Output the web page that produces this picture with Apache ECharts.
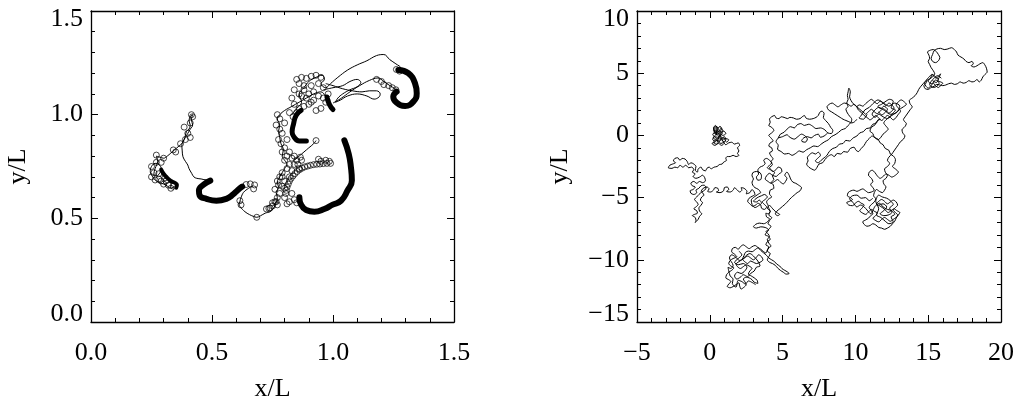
<!DOCTYPE html>
<html><head><meta charset="utf-8">
<script src="https://cdn.jsdelivr.net/npm/echarts@6/dist/echarts.min.js"></script>
<style>html,body{margin:0;padding:0;background:#fff}#c{width:1023px;height:399px}</style>
</head><body><div id="c"></div>
<script>
// ---------- tick labels ----------
const leftXTickValues = [0, 0.5, 1.0, 1.5];
const leftXTickLabels = ['0.0', '0.5', '1.0', '1.5'];
const leftYTickValues = [0, 0.5, 1.0, 1.5];
const leftYTickLabels = ['0.0', '0.5', '1.0', '1.5'];
const rightXTickValues = [-5, 0, 5, 10, 15, 20];
const rightXTickLabels = ['\u22125', '0', '5', '10', '15', '20'];
const rightYTickValues = [-15, -10, -5, 0, 5, 10];
const rightYTickLabels = ['\u221215', '\u221210', '\u22125', '0', '5', '10'];

// ---------- left panel: thin track pieces ----------
const leftTrackA = [[0.345,0.655],[0.33,0.645],[0.31,0.66],[0.29,0.67],[0.27,0.68],[0.255,0.70],[0.245,0.725],[0.25,0.75],[0.265,0.765],[0.28,0.76],[0.29,0.74],[0.285,0.72],[0.27,0.705],[0.26,0.715],[0.265,0.74],[0.275,0.775],[0.27,0.80],[0.285,0.795],[0.30,0.79],[0.315,0.80],[0.33,0.815],[0.345,0.83],[0.36,0.845],[0.375,0.86],[0.385,0.88],[0.39,0.90],[0.395,0.92],[0.405,0.93],[0.41,0.95],[0.405,0.97],[0.41,0.99],[0.42,1.0],[0.415,0.975],[0.42,0.95],[0.41,0.93],[0.40,0.91],[0.39,0.89],[0.38,0.87],[0.375,0.854]];
const leftTrackB = [[0.375,0.854],[0.377,0.825],[0.38,0.797],[0.39,0.775],[0.40,0.757],[0.405,0.74],[0.416,0.717],[0.425,0.70],[0.437,0.693],[0.455,0.69],[0.478,0.685],[0.49,0.688],[0.499,0.693]];
const leftTrackC = [[0.665,0.655],[0.645,0.64],[0.63,0.625],[0.62,0.60],[0.615,0.58],[0.612,0.565],[0.616,0.556],[0.636,0.532],[0.655,0.518],[0.67,0.51],[0.685,0.505],[0.70,0.512],[0.72,0.525],[0.74,0.532],[0.755,0.55],[0.765,0.575],[0.77,0.60],[0.765,0.625],[0.775,0.65],[0.77,0.675],[0.78,0.70],[0.79,0.72],[0.80,0.74],[0.81,0.76],[0.80,0.78],[0.79,0.80],[0.795,0.83],[0.785,0.86],[0.78,0.89],[0.775,0.92],[0.78,0.95],[0.77,0.98],[0.78,1.0],[0.80,1.02],[0.83,1.04],[0.86,1.06],[0.89,1.08],[0.92,1.10],[0.95,1.11],[0.97,1.09],[0.99,1.07]];
const leftTrackD = [[0.83,1.0],[0.85,1.03],[0.87,1.06],[0.86,1.10],[0.88,1.13],[0.90,1.16],[0.93,1.18],[0.955,1.19],[0.965,1.17],[0.95,1.15],[0.97,1.13],[0.99,1.15],[1.02,1.18],[1.06,1.215],[1.10,1.24],[1.14,1.26],[1.18,1.285],[1.21,1.29],[1.235,1.265],[1.26,1.245],[1.28,1.225],[1.265,1.205]];
const leftTrackE = [[0.96,1.12],[1.0,1.13],[1.04,1.14],[1.07,1.16],[1.10,1.17],[1.115,1.155],[1.10,1.135],[1.07,1.12],[1.04,1.10],[1.02,1.08],[1.01,1.06],[1.03,1.07],[1.06,1.09],[1.10,1.10],[1.14,1.09],[1.17,1.075],[1.19,1.085],[1.195,1.10],[1.18,1.115],[1.15,1.115],[1.12,1.11],[1.08,1.115],[1.04,1.125],[1.0,1.14],[0.97,1.15]];
const leftTrackF = [[1.0,1.056],[1.035,1.08],[1.07,1.11],[1.11,1.14],[1.15,1.165],[1.186,1.177],[1.21,1.16],[1.235,1.14],[1.255,1.125],[1.263,1.111]];
const leftTrackG = [[0.84,0.78],[0.86,0.80],[0.88,0.82],[0.90,0.84],[0.92,0.86],[0.93,0.875]];

// ---------- left panel: thick (slow, tightly gyrating) pieces ----------
const leftThick1 = [[0.29,0.735],[0.30,0.715],[0.315,0.695],[0.33,0.68],[0.345,0.672],[0.355,0.662],[0.352,0.648]];
const leftThick2 = [[0.493,0.682],[0.466,0.663],[0.446,0.634],[0.449,0.610],[0.477,0.594],[0.518,0.585],[0.559,0.594],[0.587,0.615],[0.607,0.637],[0.625,0.653]];
const leftThick3 = [[0.861,0.602],[0.868,0.566],[0.889,0.540],[0.923,0.532],[0.964,0.545],[0.999,0.566],[1.033,0.585],[1.06,0.634],[1.078,0.682],[1.074,0.747],[1.065,0.811],[1.047,0.876]];
const leftThick4 = [[0.868,1.021],[0.848,0.997],[0.837,0.956],[0.831,0.916],[0.841,0.889],[0.861,0.873],[0.89,0.873]];
const leftThick5 = [[0.975,1.085],[0.985,1.05],[1.0,1.025]];
const leftThick6 = [[1.27,1.216],[1.311,1.20],[1.339,1.151],[1.346,1.103],[1.332,1.063],[1.298,1.042],[1.263,1.058],[1.249,1.087],[1.263,1.111]];

// ---------- left panel: small gyration loops ----------
const leftLoops = [
 [0.25,0.75],[0.27,0.77],[0.28,0.69],[0.30,0.665],[0.32,0.66],[0.33,0.645],[0.26,0.72],[0.25,0.70],[0.29,0.68],[0.31,0.68],[0.34,0.655],[0.27,0.805],[0.29,0.77],[0.28,0.715],[0.265,0.685],[0.305,0.695],
 [0.30,0.79],[0.34,0.83],[0.37,0.86],[0.39,0.88],[0.40,0.91],[0.41,0.89],[0.385,0.94],[0.41,0.96],[0.42,0.99],[0.415,1.0],[0.35,0.82],
 [0.641,0.663],[0.658,0.666],[0.676,0.661],[0.672,0.642],[0.615,0.585],[0.62,0.565],[0.685,0.505],[0.725,0.545],[0.74,0.55],[0.75,0.56],[0.765,0.58],[0.75,0.575],[0.735,0.548],
 [0.77,1.0],[0.78,0.98],[0.765,0.95],[0.78,0.93],[0.79,0.91],[0.775,0.88],[0.785,0.86],[0.80,0.84],[0.79,0.82],[0.81,0.80],[0.80,0.78],[0.82,0.76],[0.81,0.74],[0.79,0.72],[0.78,0.70],[0.77,0.68],[0.775,0.66],[0.76,0.64],[0.78,0.62],[0.77,0.60],[0.76,0.58],[0.80,0.68],[0.82,0.70],[0.83,0.73],[0.84,0.76],[0.85,0.78],[0.83,0.79],[0.82,0.82],[0.84,0.80],[0.86,0.74],[0.87,0.78],[0.80,0.60],[0.82,0.58],[0.84,0.59],[0.83,0.62],[0.80,0.645],[0.81,0.88],[0.80,0.96],[0.79,0.70],[0.855,0.76],[0.865,0.795],[0.79,0.655],[0.77,0.565],[0.81,0.57],[0.85,0.575],
 [0.805,0.62],[0.807,0.635],[0.81,0.65],[0.815,0.665],[0.82,0.68],[0.827,0.693],[0.835,0.705],[0.843,0.716],[0.852,0.726],[0.862,0.735],[0.872,0.742],[0.883,0.748],[0.895,0.752],[0.907,0.756],[0.92,0.759],[0.933,0.761],[0.946,0.762],[0.96,0.764],[0.975,0.765],[0.99,0.765],[0.985,0.775],[0.97,0.78],[0.95,0.775],[0.94,0.785],
 [0.85,1.17],[0.87,1.18],[0.89,1.175],[0.91,1.185],[0.93,1.19],[0.95,1.18],[0.86,1.15],[0.88,1.14],[0.84,1.12],[0.86,1.10],[0.88,1.12],[0.90,1.10],[0.92,1.11],[0.94,1.09],[0.96,1.08],[0.92,1.07],[0.90,1.05],[0.88,1.04],[0.86,1.03],[0.84,1.05],[0.83,1.08],[0.85,1.01],[0.95,1.03],[0.97,1.06],[0.98,1.10],[0.96,1.13],[0.94,1.15],[0.91,1.14],[0.89,1.08],[0.93,1.02],[0.82,1.01],[0.835,0.99],[0.87,1.09],[0.91,1.06],
 [1.18,1.17],[1.20,1.16],[1.21,1.145],[1.23,1.14],[1.245,1.13],[1.26,1.12],[1.262,1.218],[1.275,1.21],[0.93,0.875]
];

// ---------- right panel: trajectory pieces ----------
const rightSeg1 = [[0.5,0.0],[0.35,0.3],[0.25,0.6],[0.4,0.8],[0.55,0.55],[0.7,0.75],[0.8,0.45],[0.6,0.3],[0.45,0.5],[0.3,0.2],[0.5,0.1],[0.75,0.25],[0.95,0.35],[1.1,0.15],[0.9,0.0],[0.7,0.1],[0.55,-0.15],[0.3,-0.1],[0.2,-0.35],[0.4,-0.5],[0.15,-0.65],[0.35,-0.8],[0.6,-0.65],[0.8,-0.8],[1.0,-0.6],[0.85,-0.4],[1.05,-0.25],[1.3,-0.35],[1.15,-0.55],[0.95,-0.2],[0.7,-0.35],[0.5,-0.55],[0.65,-0.1],[0.85,0.15],[0.6,0.45],[0.4,0.6],[0.3,0.45],[0.5,0.25],[0.7,-0.05],[0.9,-0.45],[1.1,-0.75],[1.3,-0.6],[1.5,-0.55],[1.7,-0.7],[1.95,-0.6],[2.05,-0.8],[1.9,-1.0],[2.0,-1.25],[1.9,-1.45],[2.0,-1.6],[1.8,-1.7],[1.6,-1.6],[1.4,-1.7],[1.2,-1.7],[1.1,-1.85],[1.15,-2.0],[0.95,-2.15],[0.85,-2.3],[0.65,-2.35],[0.5,-2.5],[0.3,-2.55],[0.1,-2.7]];
const rightSeg1b = [[0.5,0.0],[0.45,0.35],[0.6,0.6],[0.35,0.7],[0.25,0.4],[0.45,0.2],[0.65,0.4],[0.8,0.6],[0.9,0.3],[0.7,0.15],[0.55,0.35],[0.4,0.05],[0.25,-0.2],[0.45,-0.35],[0.6,-0.2],[0.8,-0.3],[0.65,-0.5],[0.45,-0.7],[0.25,-0.55],[0.4,-0.4],[0.6,-0.45],[0.75,-0.65],[0.95,-0.55],[1.1,-0.35],[1.0,-0.1],[0.85,-0.2],[0.7,0.0],[0.55,-0.3],[0.35,-0.15],[0.2,0.1],[0.4,0.25],[0.55,0.45]];
const rightSeg2 = [[0.1,-2.7],[-0.05,-2.55],[-0.2,-2.65],[-0.3,-2.85],[-0.5,-2.75],[-0.6,-2.55],[-0.8,-2.7],[-0.85,-2.95],[-1.0,-2.8],[-0.95,-2.5],[-1.1,-2.3],[-1.3,-2.2],[-1.45,-2.35],[-1.55,-2.1],[-1.7,-1.9],[-1.9,-1.85],[-2.05,-2.0],[-2.2,-1.8],[-2.4,-1.85],[-2.5,-2.05],[-2.35,-2.2],[-2.55,-2.3],[-2.75,-2.4],[-2.85,-2.6],[-2.6,-2.65],[-2.4,-2.55],[-2.2,-2.6],[-2.05,-2.4],[-1.85,-2.55],[-1.65,-2.4],[-1.45,-2.6],[-1.25,-2.55],[-1.1,-2.75],[-1.2,-2.95],[-1.0,-3.1],[-1.15,-3.3],[-0.95,-3.45],[-0.7,-3.35],[-0.5,-3.2],[-0.35,-3.4],[-0.3,-3.65],[-0.5,-3.8],[-0.7,-3.7],[-0.9,-3.85],[-1.1,-3.7],[-1.3,-3.85],[-1.2,-4.05],[-1.0,-4.15],[-1.15,-4.35],[-1.35,-4.45],[-1.3,-4.65],[-1.1,-4.75],[-0.9,-4.6],[-0.95,-4.4],[-0.75,-4.25],[-0.6,-4.05],[-0.4,-4.0],[-0.25,-4.2],[-0.35,-4.4],[-0.55,-4.55],[-0.75,-4.75],[-0.9,-4.95],[-1.05,-5.15],[-0.9,-5.35],[-0.8,-5.55],[-0.95,-5.75],[-1.1,-5.9],[-0.9,-6.05],[-0.85,-6.25],[-1.05,-6.35],[-1.2,-6.45],[-1.0,-6.6],[-0.95,-6.85],[-1.0,-7.0],[-0.8,-6.75],[-0.7,-6.5],[-0.55,-6.3],[-0.7,-6.1],[-0.75,-5.85],[-0.6,-5.6],[-0.5,-5.4],[-0.65,-5.2],[-0.55,-4.95],[-0.4,-4.8],[-0.6,-4.5]];
const rightSeg3 = [[-0.6,-4.5],[-0.45,-4.25],[-0.2,-4.15],[-0.05,-4.3],[-0.15,-4.5],[0.05,-4.55],[0.25,-4.4],[0.35,-4.2],[0.55,-4.25],[0.6,-4.45],[0.45,-4.55],[0.7,-4.6],[0.95,-4.45],[1.0,-4.2],[1.2,-4.15],[1.3,-4.35],[1.15,-4.5],[1.4,-4.55],[1.6,-4.4],[1.7,-4.2],[1.85,-4.35],[2.05,-4.55],[2.2,-4.4],[2.15,-4.2],[2.35,-4.25],[2.55,-4.5],[2.5,-4.7],[2.75,-4.6],[2.9,-4.35],[3.05,-4.55],[3.1,-4.75],[2.9,-4.9],[2.7,-5.05],[2.6,-5.3],[2.75,-5.5],[2.95,-5.7],[3.15,-5.6],[3.3,-5.45],[3.5,-5.6],[3.55,-5.85],[3.75,-5.95],[3.9,-5.75],[3.75,-5.55],[3.6,-5.35],[3.8,-5.15],[3.95,-4.95],[3.75,-4.75],[3.55,-4.85],[3.35,-4.95],[3.15,-5.1],[3.0,-5.3],[3.2,-5.35],[3.4,-5.2],[3.55,-5.45],[3.35,-5.65],[3.1,-5.8],[2.9,-5.55],[2.85,-5.2],[3.05,-4.95],[3.3,-4.75],[3.5,-4.6]];
const rightSeg4 = [[3.5,-4.6],[3.35,-4.35],[3.1,-4.2],[2.95,-4.0],[2.9,-3.75],[3.0,-3.5],[2.9,-3.25],[2.95,-3.0],[3.2,-2.9],[3.45,-3.0],[3.55,-3.25],[3.5,-3.55],[3.3,-3.6],[3.2,-3.35],[3.35,-3.1],[3.3,-2.8],[3.45,-2.55],[3.65,-2.45],[3.8,-2.25],[3.7,-2.0],[3.9,-1.85],[4.1,-2.0],[4.25,-2.2],[4.1,-2.4],[3.95,-2.6],[4.15,-2.75],[4.35,-2.9],[4.55,-2.75],[4.7,-2.55],[4.9,-2.65],[4.95,-2.9],[4.75,-3.1],[4.55,-3.3],[4.3,-3.2],[4.1,-3.05],[3.9,-3.25],[3.8,-3.5],[4.0,-3.7],[4.2,-3.85],[4.45,-3.7],[4.65,-3.55],[4.85,-3.75],[5.05,-3.9],[5.2,-3.7],[5.3,-3.45],[5.15,-3.2],[5.3,-2.95],[5.45,-3.2],[5.55,-3.5],[5.7,-3.75],[5.9,-3.85],[6.1,-4.0],[6.3,-4.2],[6.2,-4.45],[6.0,-4.6],[5.8,-4.8],[5.6,-5.0],[5.4,-5.25],[5.2,-5.5],[5.0,-5.7],[4.8,-5.9],[4.6,-6.1],[4.5,-6.3],[4.65,-6.45],[4.8,-6.35],[4.6,-6.2],[4.4,-6.0],[4.25,-5.8],[4.1,-5.6]];
const rightSeg5 = [[4.1,-5.6],[3.95,-5.85],[4.15,-6.1],[4.0,-6.3],[3.85,-6.25],[3.9,-6.55],[4.1,-6.7],[3.95,-6.95],[3.7,-7.1],[3.4,-7.05],[3.15,-7.15],[3.0,-7.35],[3.2,-7.45],[3.5,-7.35],[3.8,-7.4],[4.05,-7.6],[3.9,-7.8],[3.8,-8.0],[4.0,-8.1],[4.15,-8.35],[3.95,-8.55],[3.85,-8.8],[4.05,-8.95],[3.95,-9.2],[3.85,-9.45],[3.7,-9.35],[3.5,-9.15],[3.3,-9.0],[3.1,-8.85],[2.9,-8.95],[2.7,-9.1],[2.5,-8.95],[2.3,-8.8],[2.1,-8.95],[1.95,-9.15],[1.75,-9.0],[1.55,-9.1],[1.5,-9.35],[1.7,-9.55],[1.85,-9.75],[1.6,-9.9],[1.4,-10.05],[1.3,-10.3],[1.45,-10.5],[1.65,-10.65],[1.5,-10.85],[1.3,-11.0],[1.15,-11.2],[1.1,-11.45],[1.3,-11.6],[1.45,-11.75],[1.3,-11.95],[1.2,-12.15],[1.4,-12.25],[1.6,-12.15],[1.8,-12.0],[2.0,-11.85],[2.05,-12.1],[2.15,-12.35],[2.35,-12.2],[2.5,-12.0],[2.4,-11.75],[2.3,-11.55],[2.5,-11.4],[2.7,-11.45],[2.9,-11.6],[3.05,-11.8],[3.3,-11.9],[3.25,-11.65],[3.05,-11.45],[2.85,-11.3],[2.65,-11.15],[2.75,-10.9],[2.9,-10.7],[2.7,-10.5],[2.5,-10.4],[2.3,-10.55],[2.1,-10.7],[1.9,-10.55],[1.8,-10.35],[2.0,-10.15],[2.2,-10.0],[2.4,-9.85],[2.6,-9.7],[2.8,-9.85],[3.0,-10.0],[3.2,-9.8],[3.35,-9.6],[3.55,-9.75],[3.65,-10.0],[3.45,-10.2],[3.2,-10.3],[3.0,-10.2],[2.8,-10.1],[2.6,-10.3],[2.4,-10.15],[2.25,-9.95],[2.35,-9.65],[2.45,-9.4],[2.65,-9.3],[2.9,-9.35],[3.1,-9.2],[3.3,-9.05],[3.5,-9.25],[3.7,-9.45],[3.9,-9.65],[4.05,-9.85],[4.25,-10.0],[4.45,-10.15],[4.6,-10.35],[4.8,-10.5],[4.95,-10.7],[5.15,-10.85],[5.3,-10.95],[5.45,-11.1],[5.25,-11.15],[5.05,-11.0],[4.85,-10.85],[4.65,-10.65],[4.5,-10.45],[4.3,-10.3],[4.1,-10.2],[3.95,-10.0],[4.05,-9.75],[4.15,-9.5],[3.95,-9.3],[4.05,-9.05],[4.2,-8.9],[4.05,-8.65],[3.95,-8.35],[4.1,-8.15],[4.0,-7.9],[3.85,-7.75],[4.05,-7.55],[4.2,-7.3],[4.0,-7.1],[4.1,-6.85],[4.25,-6.6],[4.05,-6.4],[4.15,-6.1],[4.05,-5.85],[4.0,-5.6]];
const rightSeg5b = [[2.0,-9.3],[2.2,-9.6],[1.95,-9.9],[1.7,-10.2],[1.95,-10.4],[2.3,-10.3],[2.55,-10.6],[2.4,-10.9],[2.15,-11.1],[1.9,-11.0],[1.7,-11.3],[1.85,-11.55],[2.1,-11.4],[2.3,-11.2],[2.6,-11.35],[2.8,-11.1],[3.05,-10.9],[3.2,-10.6],[3.45,-10.5],[3.3,-10.1],[3.0,-9.7],[2.75,-9.5],[2.5,-9.65],[2.3,-9.9],[2.05,-10.05],[1.75,-9.75],[1.5,-9.6],[1.35,-9.85],[1.6,-10.45],[1.45,-10.7],[1.25,-10.6],[1.4,-11.3],[1.6,-11.55],[1.55,-11.9],[1.8,-12.2],[1.95,-11.65],[2.2,-11.75],[2.45,-11.95],[2.65,-11.7],[2.95,-11.85],[3.15,-12.0]];
const rightSeg6 = [[4.0,-5.6],[3.9,-5.35],[4.05,-5.1],[4.25,-4.95],[4.1,-4.7],[4.15,-4.4],[4.4,-4.25],[4.35,-3.95],[4.2,-3.8],[4.4,-3.55],[4.3,-3.25],[4.45,-3.0],[4.25,-2.8],[4.1,-2.6],[4.3,-2.35],[4.2,-2.1],[4.35,-1.9],[4.2,-1.65],[4.1,-1.4],[4.3,-1.25],[4.25,-1.0],[4.05,-0.85],[4.15,-0.6],[4.35,-0.45],[4.2,-0.2],[4.05,0.0],[4.25,0.2],[4.4,0.4],[4.25,0.65],[4.05,0.8],[4.15,1.05],[4.1,1.3],[4.25,1.5],[4.45,1.6],[4.55,1.4],[4.75,1.35],[4.9,1.5],[5.1,1.45],[5.35,1.35],[5.5,1.45],[5.75,1.4],[5.95,1.3],[6.2,1.35],[6.35,1.5],[6.5,1.6],[6.6,1.4],[6.85,1.3],[7.1,1.35],[7.3,1.45],[7.45,1.6],[7.55,1.85],[7.7,1.95],[7.85,1.75],[7.8,1.45],[7.95,1.2],[8.15,0.95],[8.3,0.65],[8.45,0.4],[8.35,0.15],[8.1,0.2],[7.9,0.45],[7.6,0.6],[7.3,0.55],[7.05,0.75],[6.8,0.9],[6.5,0.8],[6.25,0.95],[6.0,0.85],[5.8,0.6],[5.55,0.7],[5.3,0.5],[5.1,0.25],[4.85,0.1],[4.7,-0.2],[4.55,-0.5],[4.7,-0.8],[4.65,-1.1],[4.9,-1.3],[5.15,-1.5],[5.4,-1.45],[5.65,-1.6],[5.9,-1.45],[6.15,-1.25],[6.4,-1.35],[6.65,-1.15],[6.9,-1.0],[7.15,-0.85],[7.4,-0.9],[7.65,-0.7],[7.9,-0.5],[8.15,-0.35],[8.35,-0.1],[8.6,0.05],[8.85,0.25],[9.05,0.45],[9.3,0.55],[9.5,0.8],[9.7,1.05],[9.75,1.3],[9.6,1.55],[9.45,1.8],[9.35,2.1],[9.5,2.35],[9.4,2.6],[9.5,2.9],[9.45,3.2],[9.5,3.5],[9.55,3.8],[9.65,3.5],[9.6,3.1],[9.7,2.8],[9.85,2.55],[10.05,2.35],[10.25,2.15],[10.45,1.95],[10.7,1.7]];
const rightSeg6b = [[4.7,-0.2],[5.0,-0.1],[5.3,0.05],[5.5,-0.15],[5.8,-0.3],[6.05,-0.1],[6.3,0.1],[6.55,-0.05],[6.7,-0.3],[6.55,-0.55],[6.3,-0.45],[6.45,-0.2],[6.7,-0.1],[6.95,-0.2],[7.2,0.0],[7.45,0.1],[7.6,-0.15],[7.85,-0.05],[8.1,0.2]];
const rightSeg7 = [[10.7,1.7],[10.9,1.9],[11.1,2.1],[11.3,1.9],[11.5,1.75],[11.7,1.95],[11.9,2.15],[12.1,2.0],[12.3,1.8],[12.5,1.95],[12.65,2.2],[12.5,2.45],[12.3,2.6],[12.1,2.4],[11.9,2.6],[11.7,2.75],[11.5,2.55],[11.3,2.7],[11.1,2.9],[10.9,2.75],[10.7,2.55],[10.5,2.35],[10.3,2.45],[10.1,2.3],[10.2,2.05],[10.4,1.85],[10.6,1.6],[10.8,1.45],[11.0,1.25],[11.2,1.4],[11.4,1.6],[11.6,1.4],[11.8,1.2],[12.0,1.4],[12.2,1.6],[12.4,1.45],[12.6,1.25],[12.8,1.45],[12.95,1.7],[13.1,1.95],[12.95,2.2],[12.8,2.45],[12.95,2.7],[13.15,2.85],[13.35,2.7],[13.5,2.5],[13.3,2.3],[13.1,2.15],[12.9,1.95],[12.7,1.75],[12.5,1.6],[12.3,1.45],[12.1,1.25],[11.95,1.0],[12.1,0.75],[12.25,0.5],[12.1,0.3],[11.9,0.1],[11.75,-0.15],[11.55,-0.35],[11.35,-0.2],[11.15,-0.05],[10.95,-0.25],[10.75,-0.5],[10.6,-0.8],[10.4,-1.05],[10.2,-1.3],[10.05,-1.2],[9.9,-0.95],[9.65,-1.05],[9.45,-1.35],[9.2,-1.3],[9.0,-1.5],[8.75,-1.45],[8.55,-1.7],[8.35,-1.55],[8.1,-1.7],[7.9,-1.95],[7.75,-2.2],[7.5,-2.3],[7.35,-2.6],[7.2,-2.8],[7.0,-2.7],[6.8,-2.55],[6.65,-2.3],[6.75,-2.05],[6.7,-1.8],[6.85,-1.55],[7.05,-1.4],[7.25,-1.5],[7.45,-1.35],[7.6,-1.6],[7.4,-1.85],[7.25,-2.05],[7.45,-2.2],[7.65,-2.0],[7.85,-1.8],[8.05,-1.6],[8.2,-1.3],[8.45,-1.05],[8.7,-0.95],[8.9,-0.7],[9.15,-0.65],[9.35,-0.4],[9.6,-0.45],[9.85,-0.2],[10.1,-0.05],[10.3,0.2],[10.55,0.3],[10.75,0.55],[11.0,0.6],[11.2,0.9],[11.45,1.0],[11.55,1.25],[11.7,1.3]];
const rightSeg7b = [[10.1,2.3],[9.9,2.5],[9.7,2.35],[9.5,2.5],[9.25,2.6],[9.0,2.45],[8.8,2.3],[8.6,2.45],[8.4,2.6],[8.2,2.5],[8.05,2.3],[8.15,2.05],[8.35,1.9],[8.55,1.75],[8.75,1.6],[8.95,1.45],[9.15,1.3],[9.35,1.2],[9.55,1.1],[9.75,1.0],[9.95,1.1],[10.1,1.3]];
const rightSeg7c = [[11.6,1.9],[11.8,1.65],[12.05,1.85],[12.2,2.1],[11.95,2.35],[11.75,2.15],[11.55,2.35],[11.8,2.5],[12.1,2.75],[12.35,2.9],[12.6,2.75],[12.45,2.2],[12.75,2.05],[12.55,1.75],[12.2,1.35],[11.9,1.5],[11.6,1.7],[11.35,1.45],[11.15,1.7],[11.35,2.05],[11.6,2.25],[12.0,2.0],[12.4,1.7],[12.85,1.85],[13.05,2.35],[12.7,2.6],[12.3,2.35],[12.0,2.55],[11.55,2.85],[11.2,2.55],[10.95,2.25],[10.65,2.05],[10.4,1.6],[10.25,1.4],[10.55,1.3],[10.8,1.7]];
const rightSeg8 = [[11.7,1.3],[11.45,1.1],[11.35,0.85],[11.1,0.65],[11.0,0.35],[11.2,0.15],[11.3,-0.15],[11.55,-0.3],[11.7,-0.6],[11.9,-0.75],[12.05,-1.05],[12.3,-1.2],[12.4,-1.5],[12.6,-1.65],[12.75,-1.95],[12.7,-2.25],[12.55,-2.5],[12.75,-2.7],[12.95,-2.95],[12.75,-3.2],[12.5,-3.35],[12.3,-3.2],[12.1,-3.1],[11.9,-3.3],[11.7,-3.45],[11.5,-3.25],[11.35,-3.0],[11.15,-2.8],[10.95,-2.95],[10.9,-3.2],[11.1,-3.45],[11.2,-3.7],[11.05,-3.95],[11.2,-4.2],[11.3,-4.4],[11.1,-4.55],[10.9,-4.6],[10.7,-4.45],[10.5,-4.3],[10.3,-4.4],[10.1,-4.5],[9.9,-4.4],[9.7,-4.45],[9.5,-4.6],[9.45,-4.85],[9.65,-5.0],[9.8,-5.15],[9.6,-5.3],[9.4,-5.4],[9.55,-5.6],[9.8,-5.65],[10.0,-5.45],[10.2,-5.3],[10.4,-5.45],[10.6,-5.6],[10.45,-5.85],[10.3,-6.05],[10.5,-6.25],[10.7,-6.35],[10.9,-6.15],[11.1,-5.95],[11.3,-6.1],[11.5,-6.25],[11.35,-6.5],[11.2,-6.65],[11.4,-6.85],[11.6,-6.95],[11.8,-6.75],[12.0,-6.6],[12.2,-6.75],[12.4,-6.9],[12.6,-6.75],[12.8,-6.6],[12.95,-6.4],[13.05,-6.2],[12.85,-6.05],[12.65,-5.9],[12.45,-6.05],[12.25,-6.2],[12.05,-6.0],[11.85,-5.8],[11.65,-5.65],[11.45,-5.5],[11.6,-5.3],[11.8,-5.15],[12.0,-5.3],[12.2,-5.5],[12.4,-5.35],[12.6,-5.2],[12.8,-5.35],[12.9,-5.6],[12.75,-5.8],[12.6,-6.0],[12.75,-6.2],[12.9,-6.4],[12.8,-6.65],[12.7,-6.9],[12.55,-7.1],[12.4,-7.3],[12.2,-7.45],[12.0,-7.55],[11.8,-7.45],[11.6,-7.4],[11.4,-7.2],[11.2,-7.1],[11.0,-7.25],[10.8,-7.3],[10.6,-7.15],[10.5,-6.95],[10.7,-6.8],[10.9,-6.65],[11.05,-6.45],[11.2,-6.3],[11.1,-6.05],[10.95,-5.8],[11.1,-5.55],[11.3,-5.35],[11.4,-5.1],[11.25,-4.85],[11.3,-4.6],[11.45,-4.35],[11.65,-4.5],[11.85,-4.6],[12.0,-4.4],[12.1,-4.15],[11.95,-3.9],[11.9,-3.65],[12.1,-3.45],[12.2,-3.2],[12.05,-2.95],[12.0,-2.7],[12.2,-2.5],[12.35,-2.25],[12.2,-2.0],[12.3,-1.75],[12.5,-1.5],[12.65,-1.25],[12.8,-1.0],[12.95,-0.75],[13.1,-0.5],[13.3,-0.3],[13.4,-0.05],[13.25,0.2],[13.2,0.45],[13.4,0.7],[13.5,0.95],[13.35,1.15],[13.3,1.3]];
const rightSeg8b = [[11.6,-5.6],[11.9,-5.5],[12.15,-5.75],[11.95,-6.05],[11.7,-6.3],[11.95,-6.45],[12.25,-6.4],[12.5,-6.2],[12.35,-5.85],[12.6,-5.55],[12.4,-5.25],[12.15,-5.05],[11.85,-4.95],[11.6,-4.8],[11.4,-5.3],[11.6,-5.9],[11.45,-6.4],[11.75,-6.6],[12.05,-6.9],[12.3,-7.1],[12.6,-6.95],[12.45,-6.55],[12.7,-6.35],[12.5,-6.05],[12.2,-5.95],[11.9,-5.75],[11.65,-5.45],[11.35,-5.7],[11.05,-6.3],[10.8,-6.0],[10.6,-5.75],[10.35,-5.6],[10.1,-5.75],[9.85,-5.4],[9.6,-5.1],[9.8,-4.85],[10.1,-4.8],[10.4,-5.05],[10.7,-5.0],[10.95,-5.25],[11.2,-5.05]];
const rightSeg9 = [[13.3,1.3],[13.45,1.55],[13.6,1.8],[13.75,2.05],[13.9,2.3],[13.75,2.55],[13.7,2.8],[13.9,3.0],[14.1,3.2],[14.25,3.45],[14.35,3.7],[14.5,3.95],[14.65,4.15],[14.8,4.35],[14.95,4.55],[15.1,4.75],[15.25,4.9],[15.4,4.75],[15.55,4.6],[15.7,4.75],[15.85,4.95],[15.75,4.65],[15.65,4.4],[15.85,4.3],[16.0,4.2],[15.85,4.0],[15.7,3.85],[15.5,4.0],[15.35,4.2],[15.2,4.0],[15.0,3.8],[14.85,3.95],[14.75,4.2],[14.9,4.4],[15.1,4.55],[15.3,4.7],[15.45,4.95],[15.35,5.2],[15.2,5.45],[15.1,5.7],[15.0,5.95],[15.1,6.2],[15.05,6.45],[14.95,6.7],[15.15,6.85],[15.35,6.9],[15.55,6.75],[15.7,6.5],[15.8,6.25],[15.7,6.0],[15.5,5.85],[15.3,5.95],[15.2,6.2],[15.3,6.5],[15.4,6.8],[15.6,6.95],[15.85,7.0],[16.1,6.9],[16.35,6.95],[16.6,7.05],[16.8,6.9],[16.95,6.7],[17.05,6.45],[17.25,6.3],[17.45,6.15],[17.6,5.95],[17.8,5.85],[18.0,5.95],[18.1,5.75],[17.95,5.6],[18.15,5.5],[18.35,5.6],[18.55,5.75],[18.75,5.85],[18.9,5.65],[19.0,5.4],[19.05,5.1],[18.9,4.9],[18.75,4.7],[18.65,4.45],[18.5,4.3],[18.35,4.5],[18.2,4.35],[18.0,4.3],[17.8,4.4],[17.6,4.25],[17.4,4.2],[17.2,4.3],[17.0,4.15],[16.8,4.1],[16.6,4.2],[16.4,4.15],[16.2,4.05],[16.0,4.0],[15.8,4.05],[15.6,4.1],[15.4,3.95],[15.2,3.85],[15.0,3.7],[14.8,3.75],[14.7,4.0],[14.85,4.2],[14.9,4.4]];
const rightSeg9b = [[15.3,4.4],[15.55,4.25],[15.7,4.5],[15.5,4.7],[15.3,4.9],[15.15,4.6],[15.0,4.35],[15.25,4.15],[15.5,4.45],[15.75,4.2],[15.6,3.95],[15.35,3.85],[15.1,4.1],[15.4,4.6],[15.65,4.8],[15.9,4.6]];

// ---------- build ----------
const FONT = 'Liberation Serif';
function fmt(vals, labs) {
  return function (v) {
    for (let i = 0; i < vals.length; i++) if (Math.abs(vals[i] - v) < 1e-6) return labs[i];
    return '';
  };
}
function axisBase(min, max, interval) {
  return {
    type: 'value', min: min, max: max, interval: interval,
    axisLine: { show: true, onZero: false, lineStyle: { color: '#000', width: 1.3 } },
    axisTick: { show: true, inside: true, length: 7, lineStyle: { color: '#000', width: 1 } },
    minorTick: { show: true, splitNumber: 5, length: 4, lineStyle: { color: '#000', width: 1 } },
    splitLine: { show: false }, minorSplitLine: { show: false }
  };
}
function xAxes(gi, min, max, interval, vals, labs) {
  const bottom = Object.assign(axisBase(min, max, interval), {
    gridIndex: gi, position: 'bottom',
    axisLabel: { show: true, formatter: fmt(vals, labs), fontFamily: FONT, fontSize: 26, color: '#000', margin: 18 },
    name: 'x/L', nameLocation: 'middle', nameGap: 54,
    nameTextStyle: { fontFamily: FONT, fontSize: 26, color: '#000' }
  });
  const top = Object.assign(axisBase(min, max, interval), { gridIndex: gi, position: 'top', axisLabel: { show: false } });
  return [bottom, top];
}
function yAxes(gi, min, max, interval, vals, labs, gap) {
  const left = Object.assign(axisBase(min, max, interval), {
    gridIndex: gi, position: 'left',
    axisLabel: { show: true, formatter: fmt(vals, labs), fontFamily: FONT, fontSize: 26, color: '#000', margin: 8,
      lineHeight: 16, verticalAlignMinLabel: 'bottom', verticalAlignMaxLabel: 'top' },
    name: 'y/L', nameLocation: 'middle', nameGap: gap, nameRotate: 90,
    nameTextStyle: { fontFamily: FONT, fontSize: 26, color: '#000' }
  });
  const right = Object.assign(axisBase(min, max, interval), { gridIndex: gi, position: 'right', axisLabel: { show: false } });
  return [left, right];
}

const series = [];
function thin(data, xi, yi, smooth) {
  series.push({ type: 'line', xAxisIndex: xi, yAxisIndex: yi, data: data, showSymbol: false, smooth: smooth,
    lineStyle: { color: '#000', width: 1 }, silent: true, emphasis: { disabled: true } });
}
function thick(data, w) {
  series.push({ type: 'line', xAxisIndex: 0, yAxisIndex: 0, data: data, showSymbol: false, smooth: true,
    lineStyle: { color: '#000', width: w, cap: 'round', join: 'round' }, silent: true, emphasis: { disabled: true } });
}
[leftTrackA, leftTrackB, leftTrackC, leftTrackD, leftTrackE, leftTrackF, leftTrackG].forEach(d => thin(d, 0, 0, 0.4));
thick(leftThick1, 4); thick(leftThick2, 6); thick(leftThick3, 6); thick(leftThick4, 5); thick(leftThick5, 5); thick(leftThick6, 6);
series.push({ type: 'scatter', xAxisIndex: 0, yAxisIndex: 0, data: leftLoops, symbol: 'circle', symbolSize: 6,
  itemStyle: { color: 'rgba(0,0,0,0)', borderColor: '#000', borderWidth: 0.9 }, silent: true, emphasis: { disabled: true } });
[rightSeg1, rightSeg1b, rightSeg2, rightSeg3, rightSeg4, rightSeg5, rightSeg5b, rightSeg6, rightSeg6b, rightSeg7, rightSeg7b, rightSeg7c, rightSeg8, rightSeg8b, rightSeg9, rightSeg9b].forEach(d => thin(d, 2, 2, 0.3));

const chart = echarts.init(document.getElementById('c'), null, { renderer: 'canvas' });
chart.setOption({
  backgroundColor: '#fff',
  animation: false,
  grid: [
    { left: 91, top: 11, width: 363, height: 311, containLabel: false, outerBoundsMode: 'none' },
    { left: 637, top: 11, width: 364, height: 311, containLabel: false, outerBoundsMode: 'none' }
  ],
  xAxis: [].concat(
    xAxes(0, 0, 1.5, 0.5, leftXTickValues, leftXTickLabels),
    xAxes(1, -5, 20, 5, rightXTickValues, rightXTickLabels)
  ),
  yAxis: [].concat(
    yAxes(0, 0, 1.5, 0.5, leftYTickValues, leftYTickLabels, 60),
    yAxes(1, -15, 10, 5, rightYTickValues, rightYTickLabels, 64)
  ),
  series: series
});
</script></body></html>
